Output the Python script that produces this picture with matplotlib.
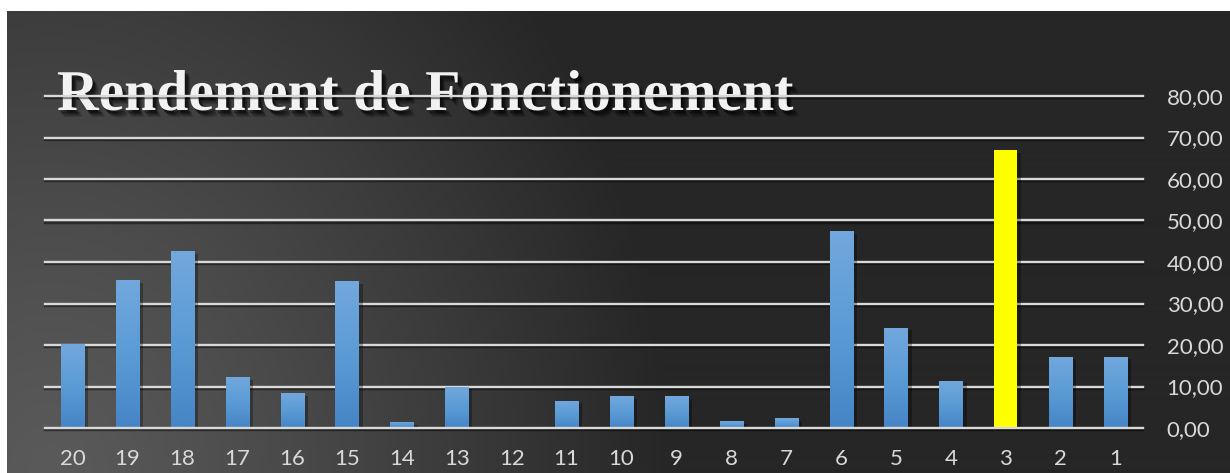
import numpy as np
import matplotlib
matplotlib.use("Agg")
import matplotlib.pyplot as plt
from matplotlib import patheffects as pe
from matplotlib.colors import LinearSegmentedColormap

# ---- data ----
categories = [str(i) for i in range(20, 0, -1)]
rendement = [20.2, 35.6, 42.6, 12.3, 8.5, 35.4, 1.5, 10.0, 0.0, 6.6,
             7.6, 7.6, 1.6, 2.3, 47.5, 24.2, 11.4, 67.0, 17.2, 17.2]
highlight = "3"
y_ticks = [0, 10, 20, 30, 40, 50, 60, 70, 80]
y_tick_labels = [f"{v:.2f}".replace(".", ",") for v in y_ticks]
title = "Rendement de Fonctionement"

W, H = 1230, 473
fig = plt.figure(figsize=(W / 100, H / 100), dpi=100, facecolor="white")

# ---- dark panel with a soft light glow from the lower-left corner ----
bg = fig.add_axes([7 / W, 0, 1 - 7 / W, (H - 11) / H], zorder=-1)
bg.set_axis_off()
ph, pw = H - 11, W - 7
yy, xx = np.mgrid[0:ph, 0:pw]
dx = (7 + xx - 50) / 620.0
dy = (11 + yy - 473) / 750.0
d = np.clip(np.sqrt(dx ** 2 + dy ** 2), 0, 1)
light, dark = 0x5a / 255, 0x26 / 255
val = light + (dark - light) * d ** 1.2
bg.imshow(np.dstack([val] * 3), aspect="auto", extent=[0, 1, 0, 1],
          origin="upper", interpolation="bilinear")

# ---- title (drawn beneath the chart gridlines) ----
shadow = [pe.SimplePatchShadow(offset=(ox, oy), shadow_rgbFace="black", alpha=0.18)
          for ox, oy in [(1, -2), (2, -3), (3, -4), (2, -2), (3, -3), (4, -5)]]
fig.text(57 / W, (H - 110) / H, title, family=["Liberation Serif"], weight="bold",
         size=41.5, color="#f2f2f2", va="baseline", ha="left", zorder=0.5,
         path_effects=shadow + [pe.Normal()])

# ---- chart axes ----
ax = fig.add_axes([45 / W, (H - 428) / H, 1098 / W, 332 / H], zorder=1)
ax.patch.set_visible(False)
for s in ax.spines.values():
    s.set_visible(False)

x = np.arange(len(categories))
bar_colors = ["#ffff00" if c == highlight else "#5b9bd5" for c in categories]
bars = ax.bar(x, rendement, width=0.42, color=bar_colors, zorder=3,
              linewidth=0)

blue_grad = LinearSegmentedColormap.from_list("bluegrad", ["#4585c6", "#5b9bd5", "#72a8dd"])
grad = np.linspace(0, 1, 256).reshape(-1, 1)
for cat, b in zip(categories, bars):
    b.set_path_effects([pe.SimplePatchShadow(offset=(3, -2), shadow_rgbFace="black", alpha=0.3),
                        pe.Normal()])
    if cat == highlight or b.get_height() <= 0:
        continue
    x0, w, h = b.get_x(), b.get_width(), b.get_height()
    im = ax.imshow(grad, cmap=blue_grad, origin="lower", aspect="auto",
                   extent=[x0, x0 + w, 0, h], zorder=3.5, interpolation="bilinear")
    im.set_clip_path(b)

for v in y_ticks:
    ax.axhline(v, color="#d9d9d9", lw=1.7, zorder=4 if v == 0 else 2, clip_on=False,
               path_effects=[pe.SimpleLineShadow(offset=(0, -1.5), alpha=0.45), pe.Normal()])

ax.set_xlim(-0.5, len(categories) - 0.5)
ax.set_ylim(0, 80)

tick_font = dict(family=["Lato", "DejaVu Sans"], size=16)
ax.set_xticks(x, categories, **tick_font)
ax.yaxis.tick_right()
ax.set_yticks(y_ticks, y_tick_labels, **tick_font)
ax.tick_params(axis="x", length=0, pad=15, labelcolor="#d9d9d9")
ax.tick_params(axis="y", length=0, pad=17, labelcolor="#d9d9d9")

fig.savefig("out.png", dpi=100, facecolor=fig.get_facecolor())
